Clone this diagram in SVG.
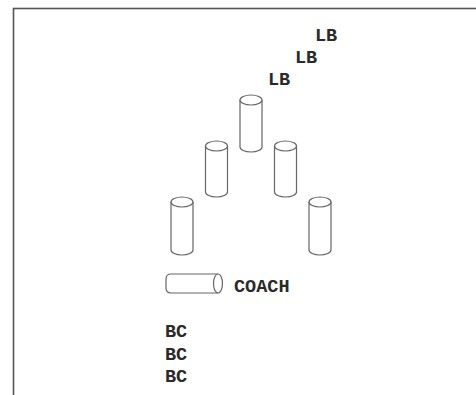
<svg xmlns="http://www.w3.org/2000/svg" width="476" height="395" viewBox="0 0 476 395">
<style>
.frame{fill:none;stroke:#555;stroke-width:1.6}
.cyl{fill:#fff;stroke:#666;stroke-width:1.2}
.lbl{font-family:"Liberation Mono","DejaVu Sans Mono",monospace;font-weight:bold;font-size:18.5px;fill:#2a2a2a}
</style>
<rect x="0" y="0" width="476" height="395" fill="#fff"/>
<rect class="frame" x="13.5" y="8.5" width="480" height="400"/>
<g id="lb1"><text class="lbl" x="315" y="41">LB</text></g>
<g id="lb2"><text class="lbl" x="295" y="63">LB</text></g>
<g id="lb3"><text class="lbl" x="268" y="85">LB</text></g>
<g id="cone-top">
<path class="cyl" d="M240,100 V147 A11 5 0 0 0 262,147 V100"/>
<ellipse class="cyl" cx="251" cy="100" rx="11" ry="5"/>
</g>
<g id="cone-left-mid">
<path class="cyl" d="M205.5,146 V192 A11 5 0 0 0 227.5,192 V146"/>
<ellipse class="cyl" cx="216.5" cy="146" rx="11" ry="5"/>
</g>
<g id="cone-right-mid">
<path class="cyl" d="M274.5,146 V192 A11 5 0 0 0 296.5,192 V146"/>
<ellipse class="cyl" cx="285.5" cy="146" rx="11" ry="5"/>
</g>
<g id="cone-left-bot">
<path class="cyl" d="M171,202 V250 A11 5 0 0 0 193,250 V202"/>
<ellipse class="cyl" cx="182" cy="202" rx="11" ry="5"/>
</g>
<g id="cone-right-bot">
<path class="cyl" d="M309,202 V250 A11 5 0 0 0 331,250 V202"/>
<ellipse class="cyl" cx="320" cy="202" rx="11" ry="5"/>
</g>
<g id="coach">
<path class="cyl" d="M218,274 H171 Q166,274 166,279 V288 Q166,293 171,293 H218"/>
<ellipse class="cyl" cx="218" cy="283.5" rx="4.5" ry="9.5"/>
<text class="lbl" x="234" y="292">COACH</text>
</g>
<g id="bc1"><text class="lbl" x="165" y="337">BC</text></g>
<g id="bc2"><text class="lbl" x="165" y="359.5">BC</text></g>
<g id="bc3"><text class="lbl" x="165" y="382">BC</text></g>
</svg>
